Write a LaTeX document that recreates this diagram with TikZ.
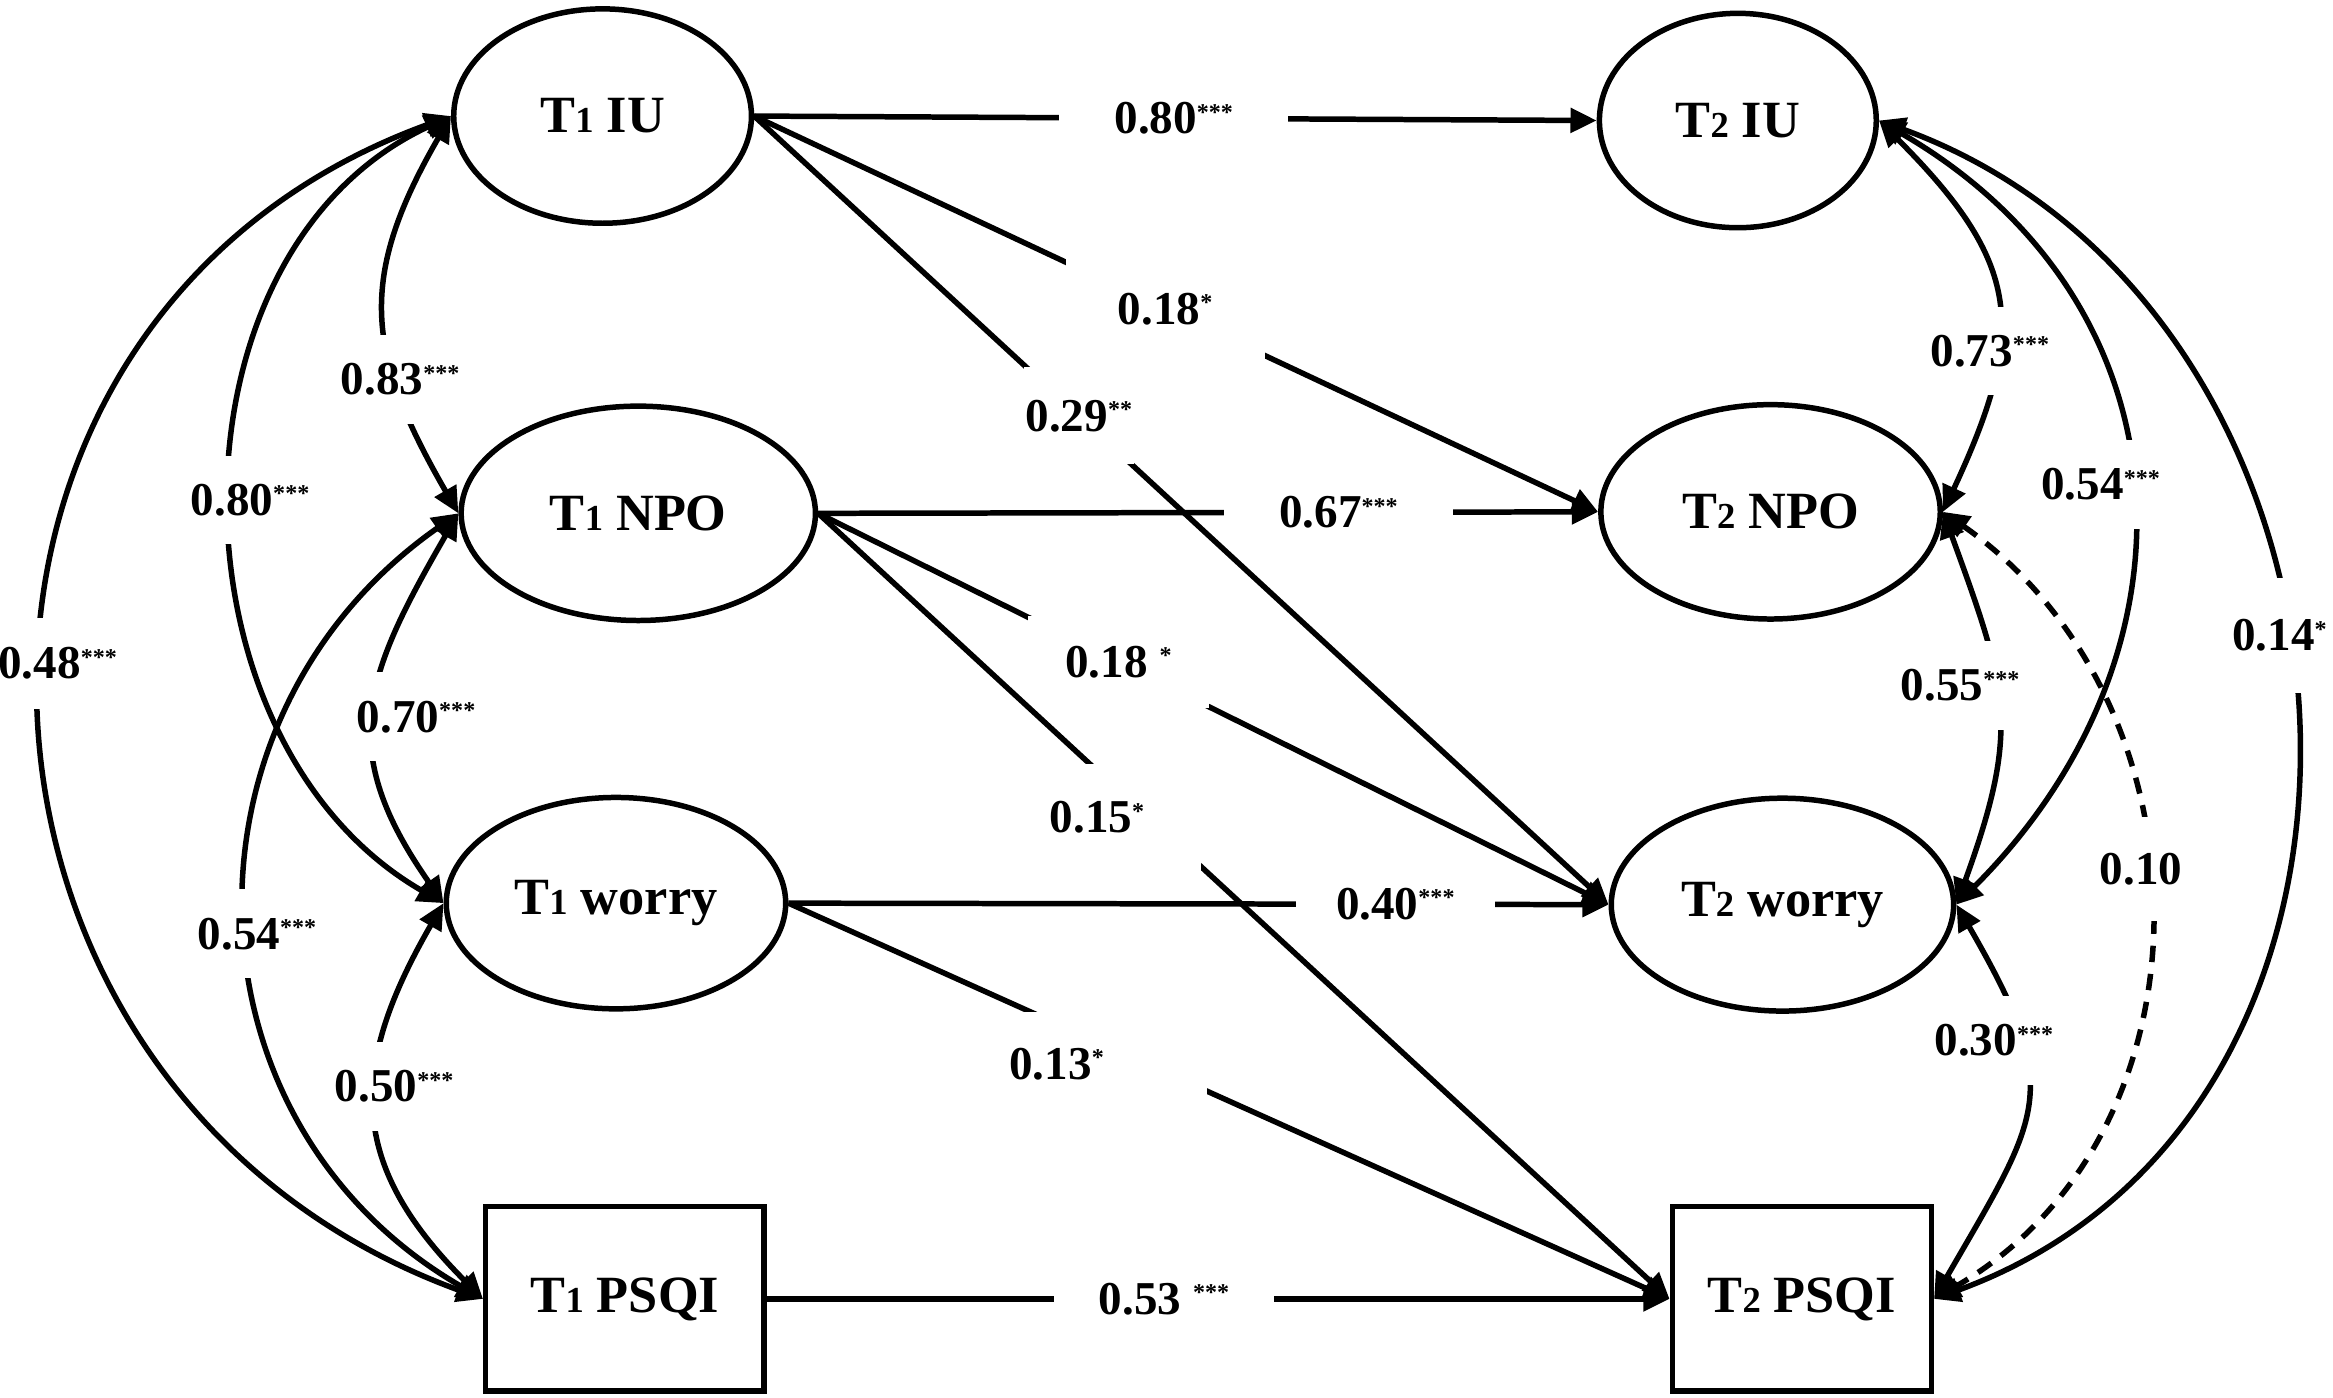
\documentclass[tikz,border=0pt]{standalone}
\usepackage{fontspec}
\setmainfont{Liberation Serif}
\usetikzlibrary{arrows.meta,shapes.geometric}
\newcommand{\tsub}[1]{{\fontsize{7}{7}\selectfont #1}}
\newcommand{\sig}[1]{\raisebox{2.6pt}{\fontsize{4.6}{4.6}\selectfont #1}}
\begin{document}
\begin{tikzpicture}[x=0.01cm, y=-0.01cm,
  lat/.style={draw, ellipse, line width=1.05pt, inner sep=0pt, font=\fontsize{10}{12}\selectfont\bfseries},
  obs/.style={draw, rectangle, line width=1.05pt, inner sep=0pt, font=\fontsize{10}{12}\selectfont\bfseries},
  reg/.style={line width=1.05pt, -{Triangle[length=5pt,width=4.6pt]}},
  covar/.style={line width=1.05pt, {Triangle[length=5pt,width=4.6pt]}-{Triangle[length=5pt,width=4.6pt]}},
  coef/.style={fill=white, font=\fontsize{9}{10}\selectfont\bfseries, inner xsep=0.03cm, inner ysep=0.19cm},
]
\useasboundingbox (0,0) rectangle (1568,939);

% nodes
\node[lat, minimum width=2.00cm, minimum height=1.44cm] (t1iu)  at (405,78)  {T\tsub{1} IU};
\node[lat, minimum width=1.86cm, minimum height=1.44cm] (t2iu)  at (1168,81) {T\tsub{2} IU};
\node[lat, minimum width=2.38cm, minimum height=1.44cm] (t1npo) at (429,345) {T\tsub{1} NPO};
\node[lat, minimum width=2.28cm, minimum height=1.44cm] (t2npo) at (1190,344) {T\tsub{2} NPO};
\node[lat, minimum width=2.28cm, minimum height=1.42cm] (t1w)   at (414,607) {T\tsub{1} worry};
\node[lat, minimum width=2.30cm, minimum height=1.43cm] (t2w)   at (1198,608) {T\tsub{2} worry};
\node[obs, minimum width=1.87cm, minimum height=1.24cm] (t1p)   at (420,873) {T\tsub{1} PSQI};
\node[obs, minimum width=1.74cm, minimum height=1.24cm] (t2p)   at (1211,873) {T\tsub{2} PSQI};

% regression paths
\draw[reg] (t1iu.east) -- node[coef, pos=0.498, inner xsep=0.37cm, inner ysep=0.1cm] {0.80\sig{***}} (t2iu.west);
\draw[reg] (t1iu.east) -- node[coef, pos=0.487, inner xsep=0.35cm, inner ysep=0.25cm] {0.18\sig{*}} (t2npo.west);
\draw[reg] (t1iu.east) -- node[coef, pos=0.38, inner xsep=0.01cm, inner ysep=0.22cm] {0.29\sig{**}} (t2w.west);
\draw[reg] (t1npo.east) -- node[coef, pos=0.667, inner xsep=0.37cm, inner ysep=0.1cm] {0.67\sig{***}} (t2npo.west);
\draw[reg] (t1npo.east) -- node[coef, pos=0.38, inner xsep=0.25cm, inner ysep=0.2cm] {0.18 \sig{*}} (t2w.west);
\draw[reg] (t1npo.east) -- node[coef, pos=0.387, xshift=-0.34cm, inner xsep=0.38cm, inner ysep=0.25cm] {0.15\sig{*}} (t2p.west);
\draw[reg] (t1w.east) -- node[coef, pos=0.74, inner xsep=0.27cm, inner ysep=0.1cm] {0.40\sig{***}} (t2w.west);
\draw[reg] (t1w.east) -- node[coef, pos=0.372, xshift=-0.4cm, yshift=-0.09cm, inner xsep=0.69cm, inner ysep=0.24cm] {0.13\sig{*}} (t2p.west);
\draw[reg] (t1p.east) -- node[coef, pos=0.44, inner xsep=0.3cm, inner ysep=0.1cm] {0.53 \sig{***}} (t2p.west);

% covariances, time 1
\draw[covar] (t1iu.west) to[out=240,in=120,looseness=1.2] node[coef,pos=0.68,xshift=0.03cm] {0.83\sig{***}} (t1npo.west);
\draw[covar] (t1iu.west) to[out=205,in=150,looseness=1.05] node[coef,pos=0.5,xshift=0.12cm] {0.80\sig{***}} (t1w.west);
\draw[covar] (t1iu.west) to[out=200,in=160,looseness=1.3] node[coef,pos=0.47,xshift=0.1cm,inner ysep=0.2cm] {0.48\sig{***}} (t1p.west);
\draw[covar] (t1npo.west) to[out=240,in=125,looseness=1.24] node[coef,pos=0.515,xshift=0.28cm] {0.70\sig{***}} (t1w.west);
\draw[covar] (t1npo.west) to[out=215,in=150,looseness=1.15] node[coef,pos=0.52,xshift=0.06cm] {0.54\sig{***}} (t1p.west);
\draw[covar] (t1w.west) to[out=240,in=135,looseness=1.23] node[coef,pos=0.43,xshift=0.12cm] {0.50\sig{***}} (t1p.west);

% covariances, time 2
\draw[covar] (t2iu.east) to[out=-45,in=65,looseness=1.3] node[coef,pos=0.64,xshift=-0.05cm] {0.73\sig{***}} (t2npo.east);
\draw[covar] (t2iu.east) to[out=-30,in=45,looseness=1.17] node[coef,pos=0.5,xshift=-0.2cm] {0.54\sig{***}} (t2w.east);
\draw[covar] (t2iu.east) to[out=-20,in=20,looseness=1.19] node[coef,pos=0.45,xshift=-0.04cm,inner ysep=0.28cm] {0.14\sig{*}} (t2p.east);
\draw[covar] (t2npo.east) to[out=-70,in=70,looseness=1.23] node[coef,pos=0.43,xshift=-0.24cm] {0.55\sig{***}} (t2w.east);
\draw[covar, dash pattern=on 1.1mm off 0.8mm] (t2npo.east) to[out=-35,in=30,looseness=1.08] node[coef,pos=0.45,xshift=-0.04cm,inner ysep=0.24cm] {0.10} (t2p.east);
\draw[covar] (t2w.east) to[out=-60,in=60,looseness=1.4] node[coef,pos=0.31,xshift=-0.18cm] {0.30\sig{***}} (t2p.east);
\end{tikzpicture}
\end{document}
